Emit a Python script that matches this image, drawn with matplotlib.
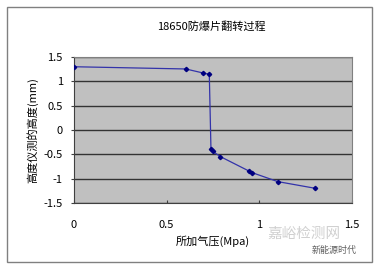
import matplotlib.pyplot as plt
from matplotlib.patches import Rectangle

plt.rcParams['font.family'] = ['Noto Sans CJK SC', 'DejaVu Sans']

# 数据：所加气压 (MPa) 与 高度仪测的高度 (mm)
pressure = [0.0, 0.603, 0.698, 0.730, 0.739, 0.748, 0.790, 0.946, 0.961, 1.099, 1.300]
height = [1.30, 1.254, 1.17, 1.145, -0.395, -0.437, -0.547, -0.847, -0.876, -1.06, -1.197]

xticks = [0, 0.5, 1, 1.5]
yticks = [-1.5, -1, -0.5, 0, 0.5, 1, 1.5]

fig = plt.figure(figsize=(3.78, 2.65), dpi=100)
fig.patch.set_facecolor('white')

# 外框
fig.patches.append(Rectangle((7 / 378, 3 / 265), 365 / 378, 255 / 265,
                             transform=fig.transFigure, fill=False,
                             edgecolor='#808080', lw=1))

ax = fig.add_axes([74 / 378, 62 / 265, 278 / 378, 146 / 265])
ax.set_facecolor('#C0C0C0')
ax.plot(pressure, height, color='#3333AA', lw=0.9, marker='D', ms=2.2,
        mfc='#000080', mec='#000080', zorder=3)

ax.set_xlim(0, 1.5)
ax.set_ylim(-1.5, 1.5)
ax.set_xticks(xticks)
ax.set_yticks(yticks)
ax.set_xticklabels(['0', '0.5', '1', '1.5'])
ax.set_yticklabels(['-1.5', '-1', '-0.5', '0', '0.5', '1', '1.5'])
ax.tick_params(axis='x', direction='in', length=2, pad=12, labelsize=8, color='#404040')
ax.tick_params(axis='y', direction='out', length=2, pad=6, labelsize=8, color='#404040')
ax.yaxis.grid(True, color='#333333', lw=1)
ax.set_axisbelow(True)
for s in ax.spines.values():
    s.set_color('#808080')
ax.spines['left'].set_color('#404040')
ax.spines['bottom'].set_color('#404040')

fig.text(211 / 378, 1 - 27 / 265, '18650防爆片翻转过程', ha='center', va='center',
         fontsize=8)
ax.set_xlabel('所加气压(Mpa)', fontsize=8, labelpad=4)
ax.set_ylabel('高度仪测的高度(mm)', fontsize=8, labelpad=4)

# 水印
fig.text(304 / 378, 1 - 234 / 265, '嘉峪检测网', ha='center', va='center',
         fontsize=10.5, color='#D0D0D0', zorder=5)
fig.text(334 / 378, 1 - 250 / 265, '新能源时代', ha='center', va='center',
         fontsize=6.5, color='#606060', zorder=5)

fig.savefig('out.png', dpi=100)
